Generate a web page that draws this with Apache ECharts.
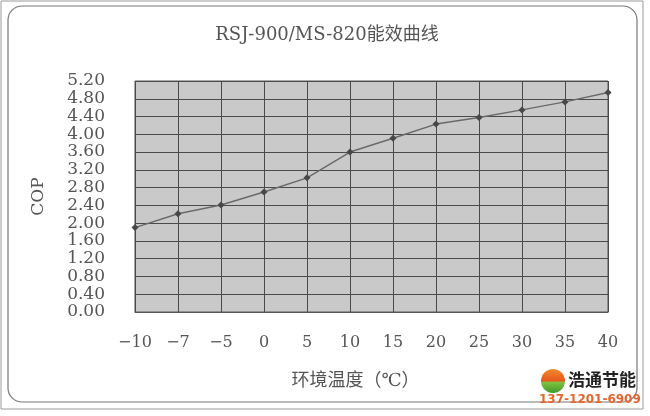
<!DOCTYPE html>
<html><head><meta charset="utf-8">
<script src="https://cdn.jsdelivr.net/npm/echarts@6/dist/echarts.min.js"></script>
<style>html,body{margin:0;padding:0;background:#fff}#c{width:650px;height:416px}</style>
</head><body><div id="c"></div>
<script>
var categories = ['-10','-7','-5','0','5','10','15','20','25','30','35','40'];
var copValues = [1.90, 2.21, 2.41, 2.70, 3.02, 3.60, 3.91, 4.23, 4.38, 4.55, 4.73, 4.94];
var titleText = 'RSJ-900/MS-820能效曲线';
var xName = '环境温度（℃）';
var yName = 'COP';
var brandText = '浩通节能';
var phoneText = '137-1201-6909';

var serif = '"DejaVu Serif","Liberation Serif","Noto Sans CJK SC",serif';
var chart = echarts.init(document.getElementById('c'));
chart.setOption({
  backgroundColor: '#ffffff',
  animation: false,
  title: {
    text: titleText, left: 322, top: 21, textAlign: 'center',
    textStyle: {fontFamily: serif, fontSize: 18, fontWeight: 'normal', color: '#555'}
  },
  grid: {left: 135, right: 42, top: 81, bottom: 104, show: true, backgroundColor: '#c9c9c9', borderColor: '#555', borderWidth: 1},
  xAxis: {
    type: 'category', data: categories, boundaryGap: false,
    axisLine: {lineStyle: {color: '#555'}},
    axisTick: {show: false},
    axisLabel: {interval: 0, hideOverlap: false, fontFamily: serif, fontSize: 16, color: '#555', margin: 23,
      formatter: function(v){ return v.replace('-', '\u2212'); }},
    splitLine: {show: true, interval: 0, lineStyle: {color: '#4a4a4a', width: 1}},
    name: xName, nameLocation: 'middle', nameGap: 60,
    nameTextStyle: {fontFamily: serif, fontSize: 18, color: '#555', padding: [0, 32, 0, 0]}
  },
  yAxis: {
    type: 'value', min: 0, max: 5.2, interval: 0.4,
    axisLine: {show: false}, axisTick: {show: false},
    axisLabel: {fontFamily: serif, fontSize: 17, color: '#555', margin: 30,
      showMinLabel: true, showMaxLabel: true, hideOverlap: false,
      formatter: function(v){ return v.toFixed(2); }},
    splitLine: {show: true, lineStyle: {color: '#4a4a4a', width: 1}},
    name: yName, nameLocation: 'middle', nameGap: 88, nameRotate: 90,
    nameTextStyle: {fontFamily: serif, fontSize: 17, color: '#555'}
  },
  series: [{
    type: 'line', data: copValues,
    symbol: 'diamond', symbolSize: 7,
    lineStyle: {color: '#6a6a6a', width: 1.5},
    itemStyle: {color: '#474747'}
  }],
  graphic: [
    {type: 'rect', shape: {x: 1, y: 1, width: 642, height: 408}, style: {fill: 'none', stroke: '#9a9a9a', lineWidth: 1}, z: -1},
    {type: 'rect', shape: {x: 8, y: 6, width: 629, height: 396, r: 14}, style: {fill: 'none', stroke: '#777', lineWidth: 1.2}, z: -1},
    {type: 'circle', shape: {cx: 553, cy: 381, r: 12}, style: {
      fill: {type: 'linear', x: 0, y: 0, x2: 0, y2: 1, colorStops: [
        {offset: 0, color: '#f08a2c'}, {offset: 0.5, color: '#e8571e'}, {offset: 0.55, color: '#7fc241'}, {offset: 1, color: '#3f9a2a'}]}
    }},
    {type: 'text', left: 568, top: 371, style: {text: brandText, fontFamily: '"Noto Sans CJK SC",sans-serif', fontSize: 17, fontWeight: 'bold', fill: '#222'}},
    {type: 'text', left: 539, top: 394, style: {text: phoneText, fontFamily: '"DejaVu Sans",sans-serif', fontSize: 12, fontWeight: 'bold', fill: '#e8642c'}}
  ]
});
</script></body></html>
